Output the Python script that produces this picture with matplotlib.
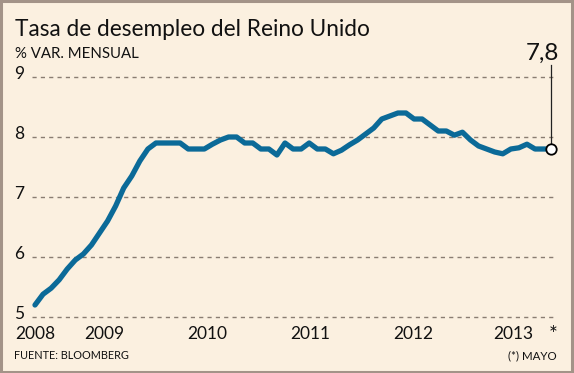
import matplotlib
matplotlib.use("Agg")
import matplotlib.pyplot as plt
from matplotlib.patches import Rectangle

# tasa de desempleo mensual, ene-2008 .. may-2013
tasa = [5.2, 5.38, 5.48, 5.62, 5.8, 5.95, 6.05, 6.2, 6.4, 6.6,
        6.85, 7.15, 7.35, 7.6, 7.8, 7.9, 7.9, 7.9, 7.9, 7.8,
        7.8, 7.8, 7.88, 7.95, 8.0, 8.0, 7.9, 7.9, 7.8, 7.8,
        7.7, 7.9, 7.8, 7.8, 7.9, 7.8, 7.8, 7.72, 7.78, 7.87,
        7.95, 8.05, 8.15, 8.3, 8.35, 8.4, 8.4, 8.3, 8.3, 8.2,
        8.1, 8.1, 8.03, 8.08, 7.95, 7.85, 7.8, 7.75, 7.72, 7.8,
        7.82, 7.88, 7.8, 7.8, 7.8]
anios = ["2008", "2009", "2010", "2011", "2012", "2013"]
pos_anios = [0, 8.6, 21.4, 34.1, 46.9, 59.3]
yticks = [5, 6, 7, 8, 9]
ultimo = "7,8"

fuente = ["Lato", "DejaVu Sans"]
fondo = "#fbf0e0"
azul = "#0b6a98"
negro = "#111111"

W, H = 574, 373
fig = plt.figure(figsize=(W / 100, H / 100), dpi=100, facecolor=fondo)

# ejes colocados en pixeles
x0, x1 = 32, 556
ytop, ybot = 74, 320
ax = fig.add_axes([x0 / W, 1 - ybot / H, (x1 - x0) / W, (ybot - ytop) / H])
ax.set_facecolor(fondo)
ax.set_xlim(-0.37, 64.6)
ax.set_ylim(4.95, 9.05)

for y in yticks:
    ax.axhline(y, color="#8a7d72", lw=1, ls=(0, (3, 3)), zorder=1)
    ax.text(-8 / (x1 - x0), y + 0.05, str(y), transform=ax.get_yaxis_transform(),
            ha="right", va="center", family=fuente, fontsize=12.5, color=negro)

meses = list(range(len(tasa)))
ax.plot(meses, tasa, color=azul, lw=3.8, solid_joinstyle="round",
        solid_capstyle="round", zorder=3)

# marcador final y etiqueta
ax.plot([meses[-1], meses[-1]], [tasa[-1], 9.2], color="#222222", lw=0.9,
        clip_on=False, zorder=2)
ax.plot(meses[-1], tasa[-1], "o", ms=7.5, mfc="white", mec="black", mew=1.3,
        clip_on=False, zorder=4)
ax.text(meses[-1] + 1.0, 9.22, ultimo, ha="right", va="bottom", fontsize=17.5,
        family=fuente, color=negro)

for s in ax.spines.values():
    s.set_visible(False)
ax.set_yticks([])
ax.set_xticks(pos_anios)
ax.set_xticklabels(anios, family=fuente, fontsize=12.5)
ax.tick_params(length=0, colors=negro)
ax.tick_params(axis="x", pad=4)
# asterisco de mayo
ax.text(64.3, -0.02, "*", transform=ax.get_xaxis_transform(), ha="center",
        va="top", family=fuente, fontsize=15, color=negro)

fig.text(15 / W, 1 - 36 / H, "Tasa de desempleo del Reino Unido", family=fuente,
         fontsize=16.3, color=negro, va="baseline")
fig.text(15 / W, 1 - 58 / H, "% VAR. MENSUAL", family=fuente, fontsize=10.8,
         color=negro, va="baseline")
fig.text(14 / W, 1 - 359 / H, "FUENTE: BLOOMBERG", family=fuente, fontsize=7.8,
         color=negro, va="baseline")
fig.text(557 / W, 1 - 359 / H, "(*) MAYO", family=fuente, fontsize=8.3,
         color=negro, va="baseline", ha="right")

fig.patches.append(Rectangle((0.002, 0.003), 0.995, 0.994, transform=fig.transFigure,
                             fill=False, ec="#a39388", lw=2.2))

fig.savefig("out.png", dpi=100, facecolor=fondo)
